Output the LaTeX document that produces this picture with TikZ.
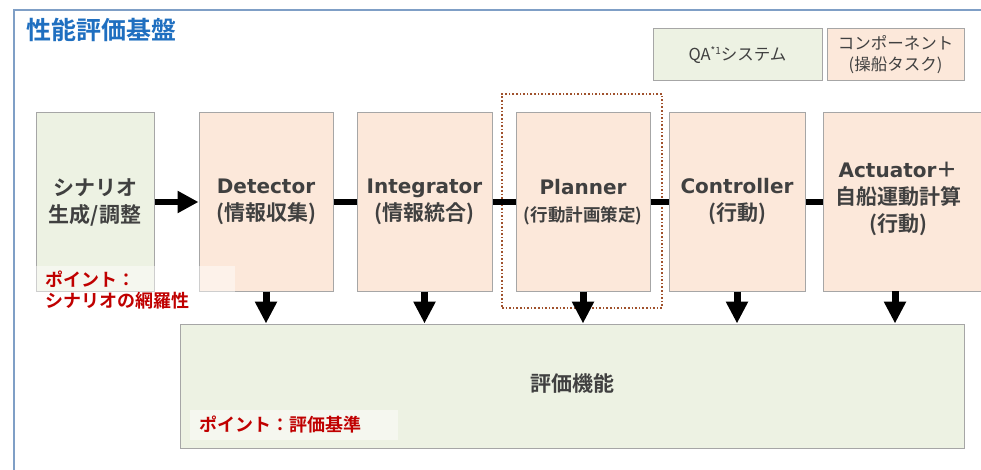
\documentclass[tikz,border=0pt]{standalone}
\usepackage{fontspec}
\setmainfont{Noto Sans CJK JP}[BoldFont={Noto Sans CJK JP Bold}]
\newfontfamily\lat{DejaVu Sans}
\usetikzlibrary{arrows.meta}
\definecolor{frameblue}{HTML}{7F9FC6}
\definecolor{titleblue}{HTML}{1F6FC0}
\definecolor{ofill}{HTML}{FCE8DA}
\definecolor{gfill}{HTML}{EDF2E3}
\definecolor{bgrey}{HTML}{A6A6A6}
\definecolor{tgrey}{HTML}{404040}
\definecolor{pred}{HTML}{C00000}
\definecolor{dotbrown}{HTML}{A0522D}
\newcommand\enw[1]{{\lat\bfseries\fontsize{20}{27}\selectfont #1}}
\newcommand\jpw[1]{{\bfseries\fontsize{21}{27}\selectfont #1}}
\begin{document}
\begin{tikzpicture}[x=1pt,y=-1pt,
  box/.style={draw=bgrey, line width=1pt, inner sep=0pt, align=center, text=tgrey,
    font=\bfseries\fontsize{20}{27}\selectfont},
  obox/.style={box, fill=ofill},
  gbox/.style={box, fill=gfill},
  legend/.style={draw=bgrey, line width=1pt, inner sep=0pt, align=center, text=tgrey},
  link/.style={line width=6pt, draw=black},
  flow/.style={link, -{Triangle[length=21pt,width=21pt]}},
  down/.style={line width=7pt, draw=black, -{Triangle[length=22pt,width=21pt]}},
  pnt/.style={text=pred, font=\bfseries\fontsize{18}{21}\selectfont, align=left,
    fill=white, fill opacity=0.45, text opacity=1, inner xsep=9pt}
]
\useasboundingbox (0,0) rectangle (981,470);
\fill[white] (0,0) rectangle (981,470);
\draw[frameblue, line width=1.5pt] (14,480) -- (14,10) -- (990,10);

\node[anchor=west, text=titleblue, font=\bfseries\fontsize{25}{25}\selectfont, inner sep=0pt] (title) at (26,30) {性能評価基盤};

\node[legend, fill=gfill, minimum width=169pt, minimum height=52pt, font=\fontsize{16.5}{18}\selectfont] (lqa) at (737.5,55)
  {QA\raisebox{6pt}{\fontsize{10}{10}\selectfont *1}システム};
\node[legend, fill=ofill, minimum width=137pt, minimum height=52pt, font=\fontsize{16.5}{21}\selectfont] (lcomp) at (895.5,55)
  {コンポーネント\\(操船タスク)};

\node[dotbrown, draw, dotted, line width=1.6pt, minimum width=160pt, minimum height=214pt, inner sep=0pt] (grp) at (582,201) {};

\node[gbox, minimum width=118pt, minimum height=178pt] (scen) at (95,202) {\jpw{シナリオ}\\\jpw{生成/調整}};
\node[obox, minimum width=134pt, minimum height=178pt] (det) at (266,202) {\enw{Detector}\\\jpw{(情報収集)}};
\node[obox, minimum width=135pt, minimum height=178pt] (intg) at (424.5,202) {\enw{Integrator}\\\jpw{(情報統合)}};
\node[obox, minimum width=134pt, minimum height=178pt] (plan) at (583,202) {\enw{Planner}\\{\bfseries\fontsize{17.5}{27}\selectfont (行動計画策定)}};
\node[obox, minimum width=136pt, minimum height=178pt] (ctrl) at (737,202) {\enw{Controller}\\\jpw{(行動)}};
\node[obox, minimum width=166pt, minimum height=178pt] (act) at (906,202) {};
\node[align=center, text=tgrey, font=\bfseries\fontsize{20}{27}\selectfont, inner sep=0pt] (actT) at (898,199)
  {\enw{Actuator}\jpw{＋}\\\jpw{自船運動計算}\\\jpw{(行動)}};

\node[gbox, minimum width=784pt, minimum height=124pt] (eval) at (572,386) {};
\node[text=tgrey, font=\bfseries\fontsize{21}{21}\selectfont, inner sep=0pt] (evalT) at (572,383) {評価機能};

\node[pnt, anchor=west, text width=181pt, inner ysep=5pt] (p1) at (36,290) {ポイント：\\シナリオの網羅性};
\node[pnt, anchor=west, text width=190pt, inner ysep=6pt] (p2) at (190,425) {ポイント：評価基準};

\draw[flow] (scen.east) -- (det.west);
\draw[link] (det.east) -- (intg.west);
\draw[link] (intg.east) -- (plan.west);
\draw[link] (plan.east) -- (ctrl.west);
\draw[link] (ctrl.east) -- (act.west);

\coordinate (actdown) at (895,291);
\draw[down] (det.south) -- (det.south |- eval.north);
\draw[down] (intg.south) -- (intg.south |- eval.north);
\draw[down] (plan.south) -- (plan.south |- eval.north);
\draw[down] (ctrl.south) -- (ctrl.south |- eval.north);
\draw[down] (actdown) -- (actdown |- eval.north);
\end{tikzpicture}
\end{document}
